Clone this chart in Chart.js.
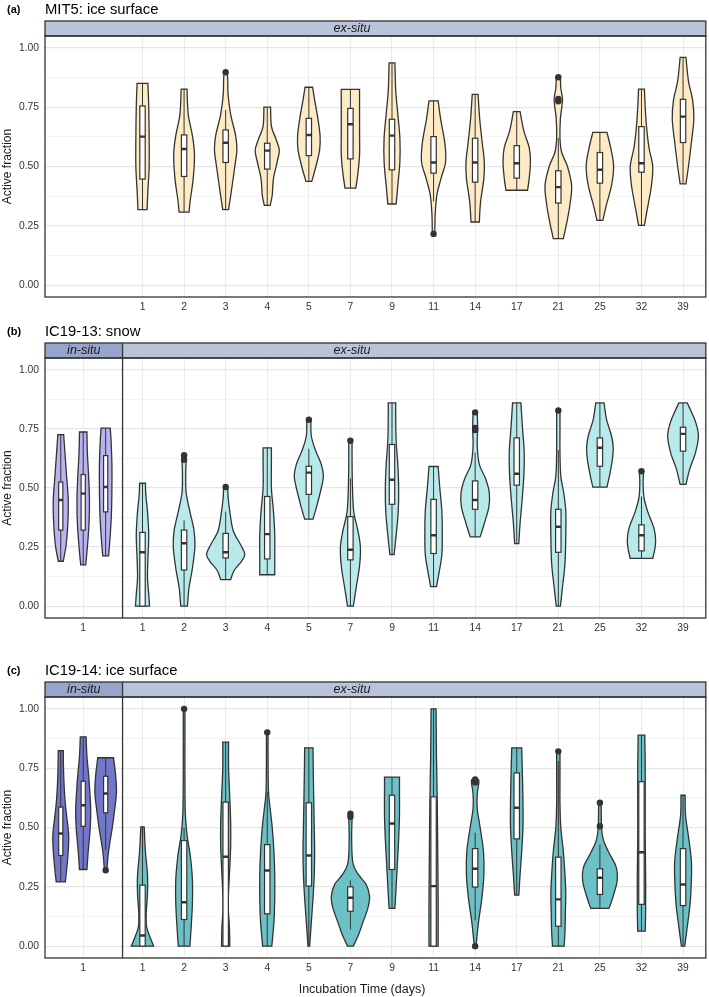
<!DOCTYPE html>
<html><head><meta charset="utf-8">
<script src="https://cdn.jsdelivr.net/npm/chart.js@4.4.0/dist/chart.umd.min.js"></script>
<style>
body{margin:0;background:#fff;width:709px;height:997px;position:relative;overflow:hidden}
canvas{position:absolute;left:0}
</style></head><body>
<canvas id="pa" width="709" height="322" style="top:0"></canvas>
<canvas id="pb" width="709" height="339" style="top:322px"></canvas>
<canvas id="pc" width="709" height="336" style="top:661px"></canvas>
<script>
// incubation days (ex-situ categories)
const days = ['1', '2', '3', '4', '5', '7', '9', '11', '14', '17', '21', '25', '32', '39'];
const yTicks = [0, 0.125, 0.25, 0.375, 0.5, 0.625, 0.75, 0.875, 1];

// violins: [active fraction, half width] from bottom to top
// boxes: [whisker low, q1, median, q3, whisker high]
// outliers: [violin index, active fraction]

// (a) MIT5: ice surface
const mitEx = [
  [[0.318,0.11],[0.40,0.13],[0.50,0.16],[0.62,0.16],[0.75,0.15],[0.85,0.13]],
  [[0.308,0.12],[0.36,0.15],[0.45,0.22],[0.55,0.25],[0.63,0.2],[0.72,0.1],[0.826,0.07]],
  [[0.318,0.07],[0.40,0.14],[0.50,0.22],[0.57,0.27],[0.63,0.24],[0.72,0.12],[0.80,0.06],[0.86,0.05],[0.897,0.04]],
  [[0.336,0.07],[0.38,0.12],[0.45,0.15],[0.52,0.24],[0.57,0.29],[0.62,0.2],[0.67,0.1],[0.75,0.08]],
  [[0.437,0.07],[0.5,0.17],[0.57,0.26],[0.63,0.27],[0.7,0.22],[0.77,0.15],[0.834,0.09]],
  [[0.409,0.13],[0.47,0.18],[0.55,0.22],[0.65,0.22],[0.75,0.22],[0.825,0.22]],
  [[0.342,0.1],[0.42,0.14],[0.52,0.19],[0.62,0.19],[0.72,0.14],[0.82,0.09],[0.937,0.07]],
  [[0.216,0.03],[0.30,0.04],[0.38,0.08],[0.45,0.18],[0.52,0.29],[0.60,0.27],[0.70,0.17],[0.777,0.11]],
  [[0.266,0.1],[0.35,0.13],[0.45,0.21],[0.52,0.22],[0.60,0.17],[0.70,0.11],[0.804,0.07]],
  [[0.40,0.26],[0.45,0.3],[0.52,0.33],[0.58,0.3],[0.65,0.17],[0.731,0.08]],
  [[0.196,0.12],[0.26,0.2],[0.34,0.28],[0.42,0.32],[0.50,0.22],[0.56,0.08],[0.62,0.04],[0.70,0.05],[0.78,0.1],[0.83,0.06],[0.876,0.05]],
  [[0.273,0.07],[0.34,0.16],[0.42,0.28],[0.50,0.33],[0.57,0.27],[0.644,0.17]],
  [[0.252,0.07],[0.32,0.14],[0.42,0.24],[0.50,0.27],[0.58,0.18],[0.67,0.12],[0.75,0.09],[0.826,0.07]],
  [[0.427,0.07],[0.5,0.13],[0.6,0.2],[0.7,0.26],[0.78,0.23],[0.86,0.13],[0.96,0.07]]
];
const mitExBox = [
  [0.318,0.447,0.626,0.755,0.85], [0.308,0.458,0.574,0.633,0.826], [0.318,0.517,0.600,0.654,0.738],
  [0.336,0.489,0.567,0.598,0.75], [0.437,0.546,0.633,0.703,0.834], [0.409,0.532,0.678,0.745,0.825],
  [0.342,0.486,0.630,0.699,0.937], [0.353,0.472,0.517,0.626,0.777], [0.266,0.434,0.517,0.619,0.804],
  [0.40,0.451,0.514,0.588,0.731], [0.196,0.346,0.413,0.482,0.62], [0.273,0.43,0.486,0.559,0.644],
  [0.252,0.476,0.514,0.668,0.826], [0.427,0.601,0.71,0.783,0.96]
];
const mitExOut = [[2,0.897],[7,0.216],[10,0.876],[10,0.785],[10,0.775]];

// (b) IC19-13: snow
const snowIn = [
  [[0.19,0.06],[0.26,0.13],[0.35,0.17],[0.45,0.18],[0.55,0.14],[0.65,0.1],[0.726,0.07]],
  [[0.175,0.06],[0.25,0.1],[0.35,0.14],[0.45,0.15],[0.55,0.13],[0.65,0.1],[0.737,0.09]],
  [[0.213,0.07],[0.3,0.11],[0.4,0.14],[0.5,0.15],[0.6,0.15],[0.7,0.13],[0.753,0.11]]
];
const snowInBox = [[0.19,0.322,0.449,0.525,0.726],[0.175,0.322,0.476,0.557,0.737],[0.213,0.399,0.504,0.637,0.753]];
const snowInOut = [];
const snowEx = [
  [[0,0.17],[0.05,0.15],[0.12,0.12],[0.2,0.13],[0.3,0.15],[0.4,0.12],[0.47,0.08],[0.52,0.07]],
  [[0,0.08],[0.08,0.12],[0.16,0.2],[0.25,0.26],[0.32,0.24],[0.4,0.14],[0.48,0.05],[0.56,0.04],[0.62,0.05],[0.639,0.04]],
  [[0.112,0.12],[0.15,0.2],[0.19,0.38],[0.22,0.46],[0.26,0.36],[0.32,0.18],[0.4,0.1],[0.46,0.06],[0.504,0.05]],
  [[0.133,0.18],[0.2,0.18],[0.3,0.18],[0.4,0.15],[0.5,0.1],[0.6,0.1],[0.67,0.1]],
  [[0.368,0.1],[0.43,0.2],[0.5,0.3],[0.55,0.35],[0.6,0.3],[0.66,0.16],[0.72,0.06],[0.789,0.05]],
  [[0,0.07],[0.08,0.14],[0.17,0.22],[0.25,0.24],[0.32,0.18],[0.4,0.08],[0.5,0.05],[0.6,0.04],[0.70,0.04]],
  [[0.218,0.05],[0.3,0.1],[0.4,0.15],[0.5,0.16],[0.6,0.14],[0.7,0.1],[0.8,0.09],[0.86,0.09]],
  [[0.083,0.07],[0.15,0.14],[0.22,0.2],[0.3,0.21],[0.4,0.2],[0.5,0.15],[0.591,0.11]],
  [[0.293,0.12],[0.35,0.22],[0.42,0.33],[0.48,0.34],[0.54,0.25],[0.6,0.1],[0.68,0.05],[0.75,0.06],[0.82,0.05]],
  [[0.265,0.05],[0.35,0.08],[0.45,0.13],[0.55,0.17],[0.65,0.18],[0.75,0.14],[0.86,0.1]],
  [[0,0.05],[0.08,0.1],[0.18,0.16],[0.3,0.18],[0.4,0.18],[0.48,0.13],[0.55,0.06],[0.65,0.04],[0.75,0.04],[0.828,0.04]],
  [[0.504,0.17],[0.56,0.24],[0.62,0.3],[0.67,0.32],[0.72,0.28],[0.79,0.16],[0.86,0.1]],
  [[0.202,0.27],[0.24,0.32],[0.28,0.34],[0.33,0.3],[0.4,0.15],[0.46,0.06],[0.52,0.04],[0.571,0.05]],
  [[0.515,0.07],[0.58,0.16],[0.65,0.3],[0.72,0.37],[0.78,0.3],[0.83,0.18],[0.86,0.1]]
];
const snowExBox = [
  [0,0,0.228,0.312,0.52], [0,0.153,0.266,0.322,0.364], [0.112,0.204,0.228,0.308,0.40],
  [0.133,0.2,0.305,0.464,0.67], [0.368,0.473,0.565,0.592,0.666], [0,0.196,0.239,0.379,0.54],
  [0.218,0.431,0.535,0.684,0.86], [0.083,0.223,0.30,0.452,0.591], [0.293,0.41,0.449,0.53,0.65],
  [0.265,0.512,0.56,0.712,0.86], [0,0.228,0.336,0.41,0.66], [0.504,0.592,0.67,0.712,0.86],
  [0.202,0.234,0.30,0.344,0.464], [0.515,0.656,0.729,0.757,0.86]
];
const snowExOut = [[1,0.639],[1,0.62],[2,0.504],[4,0.789],[5,0.70],[8,0.82],[8,0.754],[8,0.745],[10,0.828],[12,0.571]];

// (c) IC19-14: ice surface
const iceIn = [
  [[0.271,0.11],[0.32,0.14],[0.4,0.18],[0.47,0.19],[0.55,0.14],[0.62,0.1],[0.72,0.07],[0.824,0.06]],
  [[0.323,0.09],[0.4,0.12],[0.5,0.17],[0.58,0.18],[0.7,0.14],[0.8,0.09],[0.882,0.07]],
  [[0.32,0.03],[0.4,0.07],[0.5,0.16],[0.58,0.22],[0.65,0.26],[0.72,0.24],[0.794,0.19]]
];
const iceInBox = [[0.271,0.382,0.475,0.586,0.824],[0.323,0.505,0.594,0.695,0.882],[0.404,0.562,0.643,0.716,0.794]];
const iceInOut = [[2,0.32]];
const iceEx = [
  [[0,0.27],[0.03,0.2],[0.08,0.1],[0.14,0.09],[0.22,0.12],[0.3,0.12],[0.4,0.07],[0.503,0.04]],
  [[0,0.14],[0.08,0.17],[0.18,0.2],[0.28,0.2],[0.38,0.15],[0.47,0.07],[0.56,0.03],[0.7,0.02],[0.85,0.02],[1.0,0.02]],
  [[0,0.1],[0.08,0.09],[0.18,0.06],[0.3,0.09],[0.42,0.12],[0.52,0.12],[0.62,0.1],[0.75,0.07],[0.86,0.07]],
  [[0,0.11],[0.1,0.16],[0.2,0.18],[0.3,0.18],[0.4,0.16],[0.5,0.12],[0.58,0.07],[0.65,0.03],[0.78,0.02],[0.901,0.02]],
  [[0,0.02],[0.1,0.06],[0.2,0.1],[0.3,0.13],[0.4,0.14],[0.5,0.13],[0.6,0.12],[0.7,0.11],[0.836,0.1]],
  [[0,0.07],[0.05,0.2],[0.1,0.3],[0.16,0.42],[0.21,0.46],[0.26,0.38],[0.3,0.2],[0.35,0.06],[0.45,0.03],[0.545,0.04],[0.558,0.03]],
  [[0.159,0.07],[0.25,0.1],[0.35,0.13],[0.45,0.16],[0.55,0.18],[0.65,0.18],[0.712,0.18]],
  [[0,0.11],[0.2,0.11],[0.4,0.1],[0.6,0.09],[0.8,0.07],[1.0,0.06]],
  [[0,0.02],[0.1,0.08],[0.2,0.16],[0.3,0.21],[0.4,0.2],[0.5,0.12],[0.58,0.05],[0.64,0.05],[0.69,0.09],[0.702,0.08]],
  [[0.215,0.05],[0.3,0.08],[0.4,0.12],[0.5,0.15],[0.6,0.15],[0.7,0.14],[0.836,0.12]],
  [[0,0.14],[0.06,0.16],[0.14,0.17],[0.22,0.18],[0.3,0.16],[0.4,0.12],[0.5,0.06],[0.6,0.04],[0.72,0.04],[0.821,0.04]],
  [[0.159,0.22],[0.2,0.3],[0.26,0.4],[0.3,0.42],[0.34,0.38],[0.4,0.2],[0.45,0.08],[0.5,0.04],[0.604,0.03]],
  [[0.063,0.09],[0.15,0.1],[0.3,0.1],[0.45,0.09],[0.6,0.09],[0.75,0.09],[0.889,0.08]],
  [[0,0.04],[0.08,0.1],[0.18,0.17],[0.28,0.2],[0.36,0.2],[0.45,0.14],[0.55,0.06],[0.636,0.05]]
];
const iceExBox = [
  [0,0,0.045,0.257,0.503], [0,0.112,0.185,0.445,0.499], [0,0,0.377,0.607,0.86],
  [0,0.136,0.319,0.428,0.65], [0,0.253,0.382,0.604,0.836], [0.07,0.147,0.204,0.25,0.277],
  [0.159,0.323,0.517,0.636,0.712], [0,0,0.253,0.629,1.0], [0.108,0.249,0.326,0.411,0.478],
  [0.215,0.452,0.583,0.73,0.836], [0,0.084,0.197,0.375,0.78], [0.159,0.218,0.288,0.326,0.428],
  [0.063,0.176,0.396,0.693,0.889], [0,0.171,0.26,0.411,0.636]
];
const iceExOut = [[1,1.0],[3,0.901],[5,0.558],[5,0.545],[8,0.702],[8,0.69],[8,0.0],[10,0.821],[11,0.604],[11,0.505]];

const FONT = "'Liberation Sans', Arial, sans-serif";
const INK = '#333333';
const inSituX = [-0.966, -0.426, 0.114];   // dodged in-situ violins around category "1"
const exX = days.map((d, i) => i + 1);
const divider = 0.52;

function spline(ctx, pts) {
  for (let i = 0; i < pts.length - 1; i++) {
    const p0 = pts[i - 1] || pts[i], p1 = pts[i], p2 = pts[i + 1], p3 = pts[i + 2] || p2;
    ctx.bezierCurveTo(p1[0] + (p2[0] - p0[0]) / 6, p1[1] + (p2[1] - p0[1]) / 6,
      p2[0] - (p3[0] - p1[0]) / 6, p2[1] - (p3[1] - p1[1]) / 6, p2[0], p2[1]);
  }
}

function drawViolin(ctx, xs, ys, pos, prof, fill) {
  const right = prof.map(p => [xs.getPixelForValue(pos + p[1]), ys.getPixelForValue(p[0])]);
  const left = prof.map(p => [xs.getPixelForValue(pos - p[1]), ys.getPixelForValue(p[0])]).reverse();
  ctx.beginPath();
  ctx.moveTo(left[left.length - 1][0], left[left.length - 1][1]);
  ctx.lineTo(right[0][0], right[0][1]);
  spline(ctx, right);
  ctx.lineTo(left[0][0], left[0][1]);
  spline(ctx, left);
  ctx.closePath();
  ctx.fillStyle = fill;
  ctx.fill();
  ctx.lineWidth = 1.3;
  ctx.strokeStyle = INK;
  ctx.stroke();
}

function drawBox(ctx, xs, ys, pos, b, hw) {
  const cx = xs.getPixelForValue(pos);
  const x0 = xs.getPixelForValue(pos - hw), x1 = xs.getPixelForValue(pos + hw);
  const y = b.map(v => ys.getPixelForValue(v));
  ctx.strokeStyle = INK;
  ctx.lineWidth = 1;
  ctx.beginPath();
  ctx.moveTo(cx, y[0]); ctx.lineTo(cx, y[4]);
  ctx.stroke();
  ctx.fillStyle = '#ffffff';
  ctx.fillRect(x0, y[3], x1 - x0, y[1] - y[3]);
  ctx.lineWidth = 1.2;
  ctx.strokeRect(x0, y[3], x1 - x0, y[1] - y[3]);
  ctx.lineWidth = 2.4;
  ctx.beginPath();
  ctx.moveTo(x0, y[2]); ctx.lineTo(x1, y[2]);
  ctx.stroke();
}

function panel(id, o) {
  const canvas = document.getElementById(id);
  const H = canvas.height;
  const plotH = o.plotH;
  const tickPos = (o.inV ? [-0.426] : []).concat(exX);
  const tickLab = (o.inV ? ['1'] : []).concat(days);
  const pts = [];
  o.exOut.forEach(([i, v]) => pts.push({x: exX[i], y: v}));
  if (o.inOut) o.inOut.forEach(([i, v]) => pts.push({x: inSituX[i], y: v}));

  const deco = {
    id: 'deco',
    beforeDatasetsDraw(chart) {
      const {ctx, scales: {x, y}, chartArea: a} = chart;
      ctx.save();
      ctx.beginPath();
      ctx.rect(a.left, a.top, a.right - a.left, a.bottom - a.top);
      ctx.clip();
      if (o.inV) o.inV.forEach((p, i) => drawViolin(ctx, x, y, inSituX[i], p, o.inFill));
      o.exV.forEach((p, i) => drawViolin(ctx, x, y, exX[i], p, o.exFill));
      if (o.inB) o.inB.forEach((b, i) => drawBox(ctx, x, y, inSituX[i], b, 0.05));
      o.exB.forEach((b, i) => drawBox(ctx, x, y, exX[i], b, 0.065));
      ctx.restore();
    },
    afterDraw(chart) {
      const {ctx, scales: {x}, chartArea: a} = chart;
      const sTop = a.top - 15;
      ctx.save();
      // strips
      ctx.lineWidth = 1.3;
      ctx.strokeStyle = INK;
      const dx = o.inV ? x.getPixelForValue(divider) : a.left;
      if (o.inV) {
        ctx.fillStyle = '#97A4CC';
        ctx.fillRect(a.left, sTop, dx - a.left, 15);
      }
      ctx.fillStyle = '#B9C4DA';
      ctx.fillRect(dx, sTop, a.right - dx, 15);
      ctx.strokeRect(a.left, sTop, a.right - a.left, 15);
      ctx.strokeRect(a.left, a.top, a.right - a.left, a.bottom - a.top);
      if (o.inV) {
        ctx.beginPath();
        ctx.moveTo(dx, sTop); ctx.lineTo(dx, a.bottom);
        ctx.stroke();
      }
      ctx.fillStyle = '#1a1a1a';
      ctx.font = 'italic 12.5px ' + FONT;
      ctx.textAlign = 'center';
      ctx.textBaseline = 'middle';
      if (o.inV) ctx.fillText('in-situ', (a.left + dx) / 2, sTop + 8);
      ctx.fillText('ex-situ', 352, sTop + 8);
      // panel label and title
      ctx.textAlign = 'left';
      ctx.fillStyle = '#000';
      ctx.font = 'bold 11px ' + FONT;
      ctx.fillText(o.tag, 7, 10);
      ctx.font = '14.8px ' + FONT;
      ctx.fillText(o.title, 45, 10);
      if (o.xTitle) {
        ctx.font = '12.5px ' + FONT;
        ctx.textAlign = 'center';
        ctx.fillStyle = '#1a1a1a';
        ctx.fillText(o.xTitle, 362, H - 7);
      }
      ctx.restore();
    }
  };

  return new Chart(canvas, {
    type: 'scatter',
    data: {datasets: [{data: pts, pointRadius: 3.2, pointHoverRadius: 3.2, backgroundColor: INK, borderWidth: 0}]},
    options: {
      responsive: false,
      animation: false,
      events: [],
      layout: {padding: {top: 36, left: 0, right: 2, bottom: 0}},
      plugins: {legend: {display: false}, tooltip: {enabled: false}},
      scales: {
        x: {
          type: 'linear', min: -1.345, max: 14.547,
          afterBuildTicks: s => { s.ticks = tickPos.map(v => ({value: v})); },
          afterFit: s => { s.height = H - 36 - plotH; },
          ticks: {callback: (v, i) => tickLab[i], padding: 4, maxRotation: 0, autoSkip: false,
            color: '#333', font: {family: FONT, size: 10.3}},
          grid: {color: '#EBEBEB', lineWidth: 1, drawTicks: false},
          border: {display: false}
        },
        y: {
          min: -0.05, max: 1.05,
          afterBuildTicks: s => { s.ticks = yTicks.map(v => ({value: v})); },
          afterFit: s => { s.width = 45; },
          ticks: {callback: v => (Math.abs(v * 4 - Math.round(v * 4)) < 1e-6 ? v.toFixed(2) : ''),
            padding: 6, color: '#333', font: {family: FONT, size: 10.3}},
          grid: {
            color: c => (Math.abs(c.tick.value * 4 - Math.round(c.tick.value * 4)) < 1e-6 ? '#E6E6E6' : '#F0F0F0'),
            lineWidth: c => (Math.abs(c.tick.value * 4 - Math.round(c.tick.value * 4)) < 1e-6 ? 1.2 : 0.8),
            drawTicks: false
          },
          border: {display: false},
          title: {display: true, text: 'Active fraction', color: '#1a1a1a', padding: 0,
            font: {family: FONT, size: 12}}
        }
      }
    },
    plugins: [deco]
  });
}

panel('pa', {tag: '(a)', title: 'MIT5: ice surface', plotH: 261,
  exV: mitEx, exB: mitExBox, exOut: mitExOut, exFill: '#FDEBC6'});
panel('pb', {tag: '(b)', title: 'IC19-13: snow', plotH: 260,
  inV: snowIn, inB: snowInBox, inOut: snowInOut, inFill: '#B7B4F0',
  exV: snowEx, exB: snowExBox, exOut: snowExOut, exFill: '#B8EAEC'});
panel('pc', {tag: '(c)', title: 'IC19-14: ice surface', plotH: 261, xTitle: 'Incubation Time (days)',
  inV: iceIn, inB: iceInBox, inOut: iceInOut, inFill: '#7377C9',
  exV: iceEx, exB: iceExBox, exOut: iceExOut, exFill: '#6CC1C6'});
</script>
</body></html>
